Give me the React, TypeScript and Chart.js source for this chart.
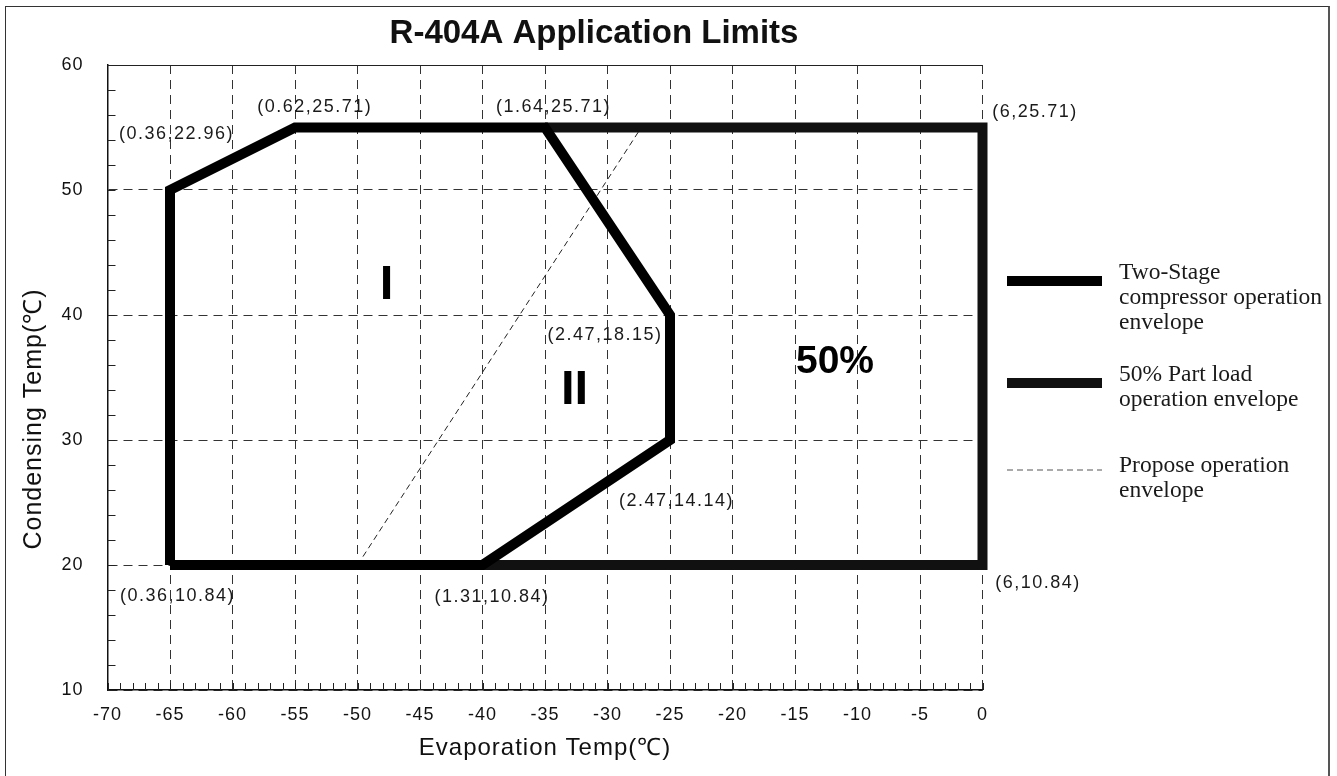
import React, { useEffect, useRef } from 'react';
import { Chart, registerables } from 'chart.js';

Chart.register(...registerables);

// ---- axis ranges / ticks ----
const xMin = -70;
const xMax = 0;
const xStep = 5;
const xMinorStep = 1;
const yMin = 10;
const yMax = 60;
const yStep = 10;
const yMinorStep = 2;

// ---- envelopes (evaporation °C, condensing °C) ----
const twoStageX = [-65, -65, -55, -35, -25, -25, -40, -65];
const twoStageY = [20, 50, 55, 55, 40, 30, 20, 20];
const partLoadX = [-35, 0, 0, -40];
const partLoadY = [55, 55, 20, 20];
const proposeX = [-50, -27.3];
const proposeY = [20, 55];

// ---- corner labels (anchored at data coordinates) ----
const cornerLabels = ['(0.36,22.96)', '(0.62,25.71)', '(1.64,25.71)', '(6,25.71)', '(2.47,18.15)', '(2.47,14.14)', '(0.36,10.84)', '(1.31,10.84)', '(6,10.84)'];
const cornerLabelX = [-64.56, -53.5, -34.4, 4.12, -30.28, -24.56, -64.48, -39.32, 4.36];
const cornerLabelY = [54.45, 56.6, 56.6, 56.2, 38.4, 25.1, 17.5, 17.45, 18.55];

// ---- region labels ----
const regionLabels = ['I', 'II', '50%'];
const regionLabelX = [-47.68, -32.64, -11.8];
const regionLabelY = [42.4, 34.0, 36.2];

// ---- legend ----
const legendTexts = [
  ['Two-Stage', 'compressor operation', 'envelope'],
  ['50% Part load', 'operation envelope'],
  ['Propose operation', 'envelope'],
];

const chartTitle = 'R-404A Application Limits';
const xTitle = 'Evaporation Temp(℃)';
const yTitle = 'Condensing Temp(℃)';

const SANS = '"Liberation Sans", Arial, Helvetica, sans-serif';
const SERIF = '"Liberation Serif", "Times New Roman", serif';

const toPoints = (xs: number[], ys: number[]) => xs.map((x, i) => ({ x, y: ys[i] }));

const overlayPlugin = {
  id: 'overlay',
  beforeDraw(chart: any) {
    chart.ctx.letterSpacing = '1px';
  },
  afterDraw(chart: any) {
    const { ctx, chartArea } = chart;
    const xs = chart.scales.x;
    const ys = chart.scales.y;
    ctx.save();
    ctx.letterSpacing = '0px';
    ctx.setLineDash([]);

    // top frame line
    ctx.strokeStyle = '#222';
    ctx.lineWidth = 1;
    ctx.beginPath();
    const ty = Math.round(chartArea.top) + 0.5;
    ctx.moveTo(chartArea.left, ty);
    ctx.lineTo(chartArea.right, ty);
    ctx.stroke();

    // minor ticks (inward)
    ctx.strokeStyle = '#222';
    ctx.lineWidth = 1;
    ctx.beginPath();
    for (let v = xMin; v <= xMax + 1e-9; v += xMinorStep) {
      const px = Math.round(xs.getPixelForValue(v)) + 0.5;
      ctx.moveTo(px, chartArea.bottom);
      ctx.lineTo(px, chartArea.bottom - 7);
    }
    for (let v = yMin; v <= yMax + 1e-9; v += yMinorStep) {
      const py = Math.round(ys.getPixelForValue(v)) + 0.5;
      ctx.moveTo(chartArea.left, py);
      ctx.lineTo(chartArea.left + 8, py);
    }
    ctx.stroke();

    // y axis title (sits a little below the axis centre, as in the source)
    ctx.save();
    ctx.fillStyle = '#111';
    ctx.font = `25px ${SANS}`;
    ctx.letterSpacing = '1px';
    ctx.textAlign = 'center';
    ctx.textBaseline = 'middle';
    ctx.translate(34, 419);
    ctx.rotate(-Math.PI / 2);
    ctx.fillText(yTitle, 0, 0);
    ctx.restore();

    // corner labels
    ctx.fillStyle = '#1a1a1a';
    ctx.textAlign = 'center';
    ctx.textBaseline = 'middle';
    ctx.font = `18px ${SANS}`;
    ctx.letterSpacing = '1.5px';
    cornerLabels.forEach((t, i) => {
      ctx.fillText(t, xs.getPixelForValue(cornerLabelX[i]) + 1, ys.getPixelForValue(cornerLabelY[i]));
    });
    ctx.letterSpacing = '0px';

    // region labels
    ctx.fillStyle = '#000';
    regionLabels.forEach((t, i) => {
      ctx.font = t === '50%' ? `bold 39px ${SANS}` : `bold 49px ${SANS}`;
      ctx.fillText(t, xs.getPixelForValue(regionLabelX[i]), ys.getPixelForValue(regionLabelY[i]));
    });

    // chart title
    ctx.font = `bold 33px ${SANS}`;
    ctx.fillStyle = '#111';
    ctx.fillText(chartTitle, 594, 34);

    // legend
    const ds = chart.data.datasets;
    const sampleY = [281, 383, 470];
    const textY = [273, 375, 466];
    const x0 = 1007;
    const x1 = 1102;
    ds.forEach((d: any, i: number) => {
      ctx.save();
      ctx.strokeStyle = i === 2 ? '#555' : d.borderColor;
      ctx.lineWidth = d.borderWidth;
      ctx.setLineDash(d.borderDash ? d.borderDash : []);
      ctx.lineCap = 'butt';
      ctx.beginPath();
      ctx.moveTo(x0, sampleY[i]);
      ctx.lineTo(x1, sampleY[i]);
      ctx.stroke();
      ctx.restore();
      ctx.font = `23.5px ${SERIF}`;
      ctx.fillStyle = '#1a1a1a';
      ctx.textAlign = 'left';
      ctx.textBaseline = 'middle';
      legendTexts[i].forEach((line, j) => {
        ctx.fillText(line, 1119, textY[i] + j * 25);
      });
    });

    ctx.restore();
  },
};

export default function App() {
  const canvasRef = useRef<HTMLCanvasElement | null>(null);

  useEffect(() => {
    const canvas = canvasRef.current;
    if (!canvas) return;
    const chart = new Chart(canvas, {
      type: 'scatter',
      data: {
        datasets: [
          {
            label: 'Two-Stage compressor operation envelope',
            data: toPoints(twoStageX, twoStageY),
            showLine: true,
            borderColor: '#000',
            borderWidth: 10,
            pointRadius: 0,
            borderJoinStyle: 'miter',
            borderCapStyle: 'butt',
            fill: false,
            clip: false,
          },
          {
            label: '50% Part load operation envelope',
            data: toPoints(partLoadX, partLoadY),
            showLine: true,
            borderColor: '#111',
            borderWidth: 10,
            pointRadius: 0,
            borderJoinStyle: 'miter',
            borderCapStyle: 'butt',
            fill: false,
            clip: false,
          },
          {
            label: 'Propose operation envelope',
            data: toPoints(proposeX, proposeY),
            showLine: true,
            borderColor: '#222',
            borderWidth: 1,
            borderDash: [6, 4],
            pointRadius: 0,
            fill: false,
            clip: false,
          },
        ],
      } as any,
      options: {
        animation: false,
        responsive: false,
        devicePixelRatio: 1,
        events: [],
        layout: { padding: { left: 0, top: 65, right: 354.5, bottom: 0 } },
        plugins: {
          legend: { display: false },
          tooltip: { enabled: false },
          title: { display: false },
        },
        scales: {
          x: {
            type: 'linear',
            position: 'bottom',
            min: xMin,
            max: xMax,
            ticks: {
              stepSize: xStep,
              autoSkip: false,
              maxRotation: 0,
              padding: 14,
              color: '#111',
              font: { family: SANS, size: 18 },
            },
            grid: { color: '#333', lineWidth: 1, drawTicks: false },
            border: { display: true, color: '#111', width: 1.5, dash: [9, 6] },
            title: {
              display: true,
              text: xTitle,
              color: '#111',
              font: { family: SANS, size: 24 },
              padding: { top: 0, bottom: 13 },
            },
            afterFit: (s: any) => {
              s.height = 86;
            },
          },
          y: {
            type: 'linear',
            position: 'left',
            min: yMin,
            max: yMax,
            ticks: {
              stepSize: yStep,
              padding: 24,
              color: '#111',
              font: { family: SANS, size: 18 },
            },
            grid: { color: '#333', lineWidth: 1, drawTicks: false },
            border: { display: true, color: '#111', width: 1.5, dash: [9, 6] },
            title: { display: false, text: yTitle },
            afterFit: (s: any) => {
              s.width = 107.5;
            },
          },
        },
      } as any,
      plugins: [overlayPlugin],
    });
    return () => chart.destroy();
  }, []);

  return (
    <div
      style={{
        position: 'fixed',
        left: 0,
        top: 0,
        width: 1337,
        height: 776,
        overflow: 'hidden',
        background: '#fff',
      }}
    >
      <canvas
        ref={canvasRef}
        width={1337}
        height={776}
        style={{ position: 'absolute', left: 0, top: 0, width: 1337, height: 776 }}
      />
      <div
        style={{
          position: 'absolute',
          left: 5,
          top: 6,
          width: 1322,
          height: 820,
          borderTop: '1px solid #333',
          borderLeft: '1px solid #333',
          borderRight: '2px solid #555',
          pointerEvents: 'none',
        }}
      />
    </div>
  );
}
